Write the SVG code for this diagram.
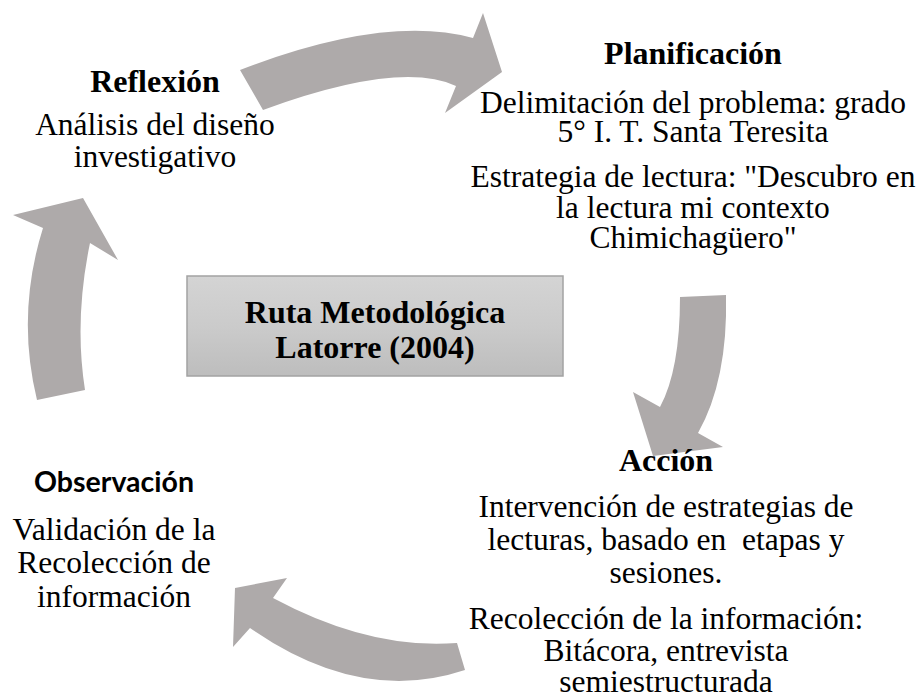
<svg xmlns="http://www.w3.org/2000/svg" width="924" height="698" viewBox="0 0 924 698">
  <defs>
    <linearGradient id="boxGrad" x1="0" y1="0" x2="0" y2="1">
      <stop offset="0" stop-color="#d4d4d4"/>
      <stop offset="0.5" stop-color="#cbcbcb"/>
      <stop offset="1" stop-color="#bdbdbd"/>
    </linearGradient>
  </defs>
  <style>
    .arrow { fill: #aeaaaa; stroke: none; }
    .head { font-family: "Liberation Serif", "Times New Roman", serif; font-weight: bold; font-size: 32px; fill: #000; text-anchor: middle; }
    .body { font-family: "Liberation Serif", "Times New Roman", serif; font-size: 31.5px; fill: #000; text-anchor: middle; white-space: pre; }
    .sans { font-family: "Lato", "Liberation Sans", Arial, sans-serif; font-weight: bold; font-size: 28.5px; fill: #000; text-anchor: middle; }
  </style>
  <rect width="924" height="698" fill="#ffffff"/>

  <g id="connectors">
    <path class="arrow" d="M240,70 Q385,14 473,38 L483,13 L502,72 L445,113 L456,86 Q400,60 263,110 Z"/>
    <path class="arrow" d="M680,297 Q680,370 660,407 L633,392 L653,456 L723,447 L698,433 Q728,380 726,295 Z"/>
    <path class="arrow" d="M457,643 Q370,650 273,598 L287,578 L235,588 L233,647 L250,628 Q360,705 465,670 Z"/>
    <path class="arrow" d="M37,400 Q16,314 43,228 L13,215 L83,198 L118,260 L90,243 Q74,320 85,390 Z"/>
  </g>

  <g id="center">
    <rect x="187" y="276" width="376" height="100" fill="url(#boxGrad)" stroke="#a3a3a3" stroke-width="1.5"/>
    <text class="head" x="375" y="323">Ruta Metodológica</text>
    <text class="head" x="375" y="358">Latorre (2004)</text>
  </g>

  <g id="planificacion">
    <text class="head" x="693" y="64">Planificación</text>
    <text class="body" x="693" y="113">Delimitación del problema: grado</text>
    <text class="body" x="693" y="142">5° I. T. Santa Teresita</text>
    <text class="body" x="693" y="187">Estrategia de lectura: "Descubro en</text>
    <text class="body" x="693" y="218">la lectura mi contexto</text>
    <text class="body" x="693" y="248">Chimichagüero"</text>
  </g>

  <g id="accion">
    <text class="head" x="666" y="471">Acción</text>
    <text class="body" x="666" y="517">Intervención de estrategias de</text>
    <text class="body" x="666" y="550">lecturas, basado en  etapas y</text>
    <text class="body" x="666" y="583">sesiones.</text>
    <text class="body" x="666" y="629">Recolección de la información:</text>
    <text class="body" x="666" y="661">Bitácora, entrevista</text>
    <text class="body" x="666" y="692">semiestructurada</text>
  </g>

  <g id="observacion">
    <text class="sans" x="114" y="492">Observación</text>
    <text class="body" x="114" y="540">Validación de la</text>
    <text class="body" x="114" y="573">Recolección de</text>
    <text class="body" x="114" y="607">información</text>
  </g>

  <g id="reflexion">
    <text class="head" x="155" y="92">Reflexión</text>
    <text class="body" x="155" y="135">Análisis del diseño</text>
    <text class="body" x="155" y="167">investigativo</text>
  </g>
</svg>
